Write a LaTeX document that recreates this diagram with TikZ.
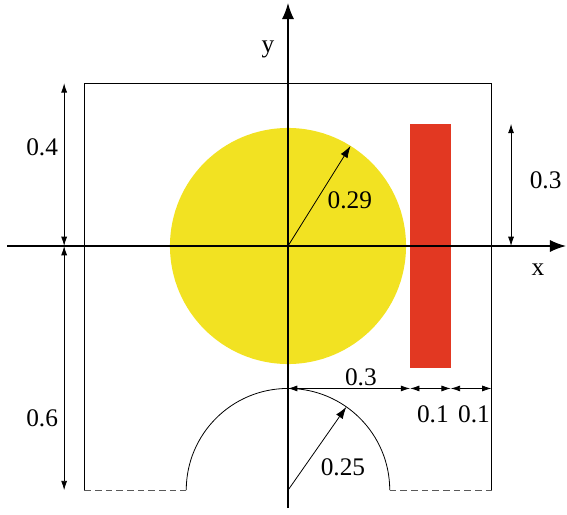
\documentclass[tikz,border=0pt]{standalone}
\usepackage{fontspec}
\setmainfont{Liberation Serif}
\usetikzlibrary{arrows.meta,calc}
\definecolor{ylw}{RGB}{242,226,34}
\definecolor{rd}{RGB}{226,56,34}
\tikzset{
  axis/.style={line width=1pt,-{Latex[length=12pt,width=9pt]}},
  dim/.style={line width=0.6pt,{Latex[length=7pt,width=4.5pt]}-{Latex[length=7pt,width=4.5pt]}},
  radius/.style={line width=0.6pt,-{Latex[length=9pt,width=6pt]}},
  thin/.style={line width=0.6pt},
  lbl/.style={font=\fontsize{19}{20}\selectfont,inner sep=0pt}
}
\begin{document}
\begin{tikzpicture}[x=305.25pt,y=305.25pt]
\useasboundingbox (-0.7076,-0.6585) rectangle (0.6855,0.6044);
% shapes
\fill[ylw] (0,0) circle (0.29);
\fill[rd] (0.3,-0.3) rectangle (0.4,0.3);
\draw[thin] (-0.5,-0.6) -- (-0.5,0.4) -- (0.5,0.4) -- (0.5,-0.6);
\coordinate (c1) at (0,-0.6);
\coordinate (a0) at (-0.25,-0.6);
\draw[thin] (a0) arc[start angle=180,end angle=0,x radius=76.3125pt,y radius=76.3125pt];
\draw[thin,dash pattern=on 5pt off 3pt,draw=black!65] (-0.5,-0.6) -- (-0.25,-0.6) (0.25,-0.6) -- (0.5,-0.6);
% axes
\coordinate (O) at (0,0);
\coordinate (xs) at (-0.690,0);
\coordinate (xe) at (0.683,0);
\coordinate (ys) at (0,-0.644);
\coordinate (ye) at (0,0.597);
\draw[axis] (xs) -- (xe);
\draw[axis] (ys) -- (ye);
\node[lbl] (xl) at (0.614,-0.059) {x};
\node[lbl] (yl) at (-0.049,0.482) {y};
% radii
\coordinate (r1) at (58:0.29);
\coordinate (r2) at ($(c1)+(55:0.25)$);
\draw[radius] (O) -- (r1);
\draw[radius] (c1) -- (r2);
\node[lbl] (l029) at (0.152,0.113) {0.29};
\node[lbl] (l025) at (0.135,-0.543) {0.25};
% dimensions
\coordinate (d1) at (-0.55,0.4);
\coordinate (d2) at (-0.55,0);
\coordinate (d3) at (-0.55,-0.6);
\draw[dim] (d1) -- (d2);
\draw[dim] (d2) -- (d3);
\node[lbl] (l04) at (-0.604,0.243) {0.4};
\node[lbl] (l06) at (-0.604,-0.423) {0.6};
\coordinate (e1) at (0.548,0.3);
\coordinate (e2) at (0.548,0);
\draw[dim] (e1) -- (e2);
\node[lbl] (l03r) at (0.633,0.162) {0.3};
\coordinate (h0) at (0,-0.35);
\coordinate (h1) at (0.3,-0.35);
\coordinate (h2) at (0.4,-0.35);
\coordinate (h3) at (0.5,-0.35);
\draw[dim] (h0) -- (h1);
\draw[dim] (h1) -- (h2);
\draw[dim] (h2) -- (h3);
\node[lbl] (l03b) at (0.179,-0.322) {0.3};
\node[lbl] (l01a) at (0.356,-0.413) {0.1};
\node[lbl] (l01b) at (0.457,-0.413) {0.1};
\end{tikzpicture}
\end{document}
